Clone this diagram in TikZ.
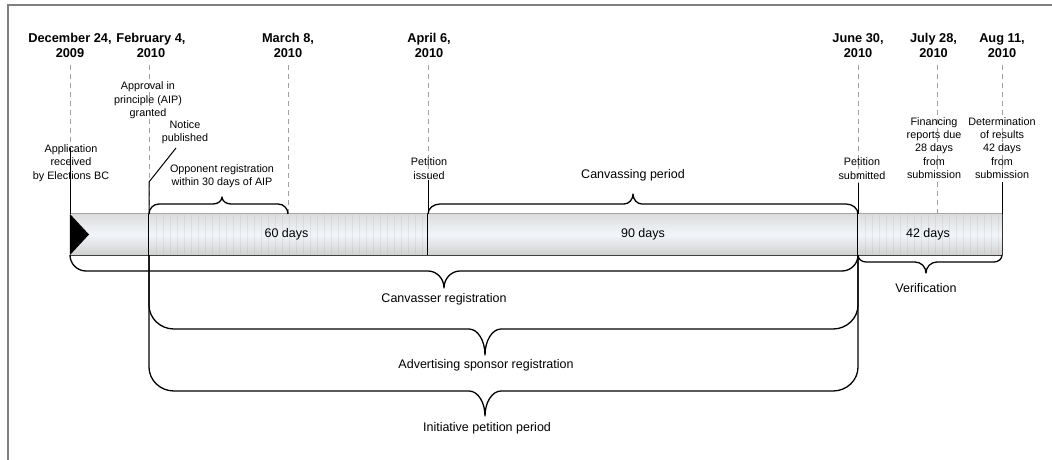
\documentclass[tikz,border=0pt]{standalone}
\usepackage{fontspec}
\setmainfont{Liberation Sans}
\definecolor{bartop}{RGB}{220,220,220}
\definecolor{barmid}{RGB}{242,246,250}
\definecolor{barbot}{RGB}{208,208,208}
\definecolor{framec}{RGB}{128,128,128}
\definecolor{dashc}{RGB}{160,160,160}
\tikzset{
  datelab/.style={font=\fontsize{12.8}{14.5}\selectfont\bfseries, align=center, inner sep=0pt},
  calllab/.style={font=\fontsize{10.8}{13.4}\selectfont, align=center, inner sep=0pt},
  bracelab/.style={font=\fontsize{12.5}{15}\selectfont, align=center, inner sep=0pt},
  datedash/.style={draw=dashc, line width=0.8pt, dash pattern=on 5pt off 4pt},
  leader/.style={draw=black, line width=1pt},
  bracepath/.style={draw=black, line width=1.3pt, line join=round},
  texture/.style={draw=gray, opacity=0.12, line width=0.6pt},
  seg/.style={top color=bartop, bottom color=barbot, middle color=barmid, draw=none,
              minimum height=41pt, inner sep=0pt, font=\fontsize{12.5}{15}\selectfont},
}
% xl, xr, y0, yc, yh, xt, ytip, r, w
\newcommand{\tlbrace}[9]{%
  \draw[bracepath] (#1,#3) -- (#1,#4)
    .. controls (#1,{#4+0.552*(#5-#4)}) and ({#1+0.448*#8},#5) .. ({#1+#8},#5)
    -- ({#6-#9},#5)
    .. controls ({#6-0.448*#9},#5) and (#6,{#5+0.448*(#7-#5)}) .. (#6,#7)
    .. controls (#6,{#5+0.448*(#7-#5)}) and ({#6+0.448*#9},#5) .. ({#6+#9},#5)
    -- ({#2-#8},#5)
    .. controls ({#2-0.448*#8},#5) and (#2,{#4+0.552*(#5-#4)}) .. (#2,#4)
    -- (#2,#3);}
\begin{document}
\begin{tikzpicture}[x=1pt,y=-1pt]
\useasboundingbox (0,0) rectangle (1052,460);
% frame
\draw[framec, line width=1.5pt] (8,460) -- (8,5) -- (1052,5);

% bar segments
\node[seg, minimum width=79pt]  (s1) at (109.5,234.5) {};
\node[seg, minimum width=279pt] (s2) at (288.5,234.5) {};
\node[seg, minimum width=430pt] (s3) at (643,234.5) {};
\node[seg, minimum width=144pt] (s4) at (930,234.5) {};
\foreach \x in {156,163,...,424} \draw[texture] (\x,215) -- (\x,254);
\foreach \x in {865,872,...,998} \draw[texture] (\x,215) -- (\x,254);
\node[bracelab] (l60) at (286.5,234) {60 days};
\node[bracelab] (l90) at (643,234) {90 days};
\node[bracelab] (l42) at (928,234) {42 days};
\draw[gray!70, line width=0.8pt] (s1.north west) -- (s4.north east);
\draw[black!75, line width=1.4pt] (s1.south west) -- (s4.south east);
\draw[black, line width=1pt] (s2.north west) -- (s2.south west);
\draw[black, line width=1pt] (s3.north west) -- (s3.south west);
\draw[black, line width=1pt] (s4.north west) -- (s4.south west);
\draw[black!80, line width=1.2pt] (s4.north east) -- (s4.south east);
\fill[black] (s1.north west) -- (89,234.5) -- (s1.south west) -- cycle;

% bar-top coordinates
\coordinate (b1) at (70,214);
\coordinate (b2) at (149,214);
\coordinate (b3) at (288,214);
\coordinate (b4) at (428,214);
\coordinate (b5) at (858,214);
\coordinate (b6) at (937,214);
\coordinate (b7) at (1002,214);

% dates
\node[datelab] (d1) at (70,45.5)  {December 24,\\2009};
\node[datelab] (d2) at (151,45.5) {February 4,\\2010};
\node[datelab] (d3) at (288,45.5) {March 8,\\2010};
\node[datelab] (d4) at (429,45.5) {April 6,\\2010};
\node[datelab] (d5) at (858,45.5) {June 30,\\2010};
\node[datelab] (d6) at (933.5,45.5) {July 28,\\2010};
\node[datelab] (d7) at (1002,45.5) {Aug 11,\\2010};

% dashed date lines
\foreach \c in {b1,b2,b3,b4,b5,b6,b7}
  \draw[datedash] (\c |- 0,65) -- (\c);

% callout labels
\node[calllab] (c1) at (71,163) {Application\\received\\by Elections BC};
\node[calllab] (c2) at (148,100.5) {Approval in\\principle (AIP)\\granted};
\node[calllab] (c3) at (185,132) {Notice\\published};
\node[calllab] (c4) at (222,176.5) {Opponent registration\\within 30 days of AIP};
\node[calllab] (c5) at (429,168.5) {Petition\\issued};
\node[calllab] (c6) at (862,168.5) {Petition\\submitted};
\node[calllab] (c7) at (934,148) {Financing\\reports due\\28 days\\from\\submission};
\node[calllab] (c8) at (1002,148) {Determination\\of results\\42 days\\from\\submission};

% leader lines
\coordinate (n1) at (176,148);
\coordinate (n2) at (149,182);
\draw[leader] (b1 |- 0,148) -- (b1);
\draw[leader] (n1) -- (n2) -- (b2);
\draw[leader] (b4 |- 0,180) -- (b4);
\draw[leader] (b5 |- 0,183) -- (b5);
\draw[leader] (b7 |- 0,182) -- (b7);

% braces above bar
\tlbrace{149}{288}{214}{214}{204}{222}{197}{10}{9}
\tlbrace{428}{858}{214}{214}{204}{633}{194}{12}{9}
\node[bracelab] (lcp) at (633,175.5) {Canvassing period};

% braces below bar
\tlbrace{70}{858}{255}{255}{271}{444}{288}{16}{16}
\node[bracelab] (lcr) at (444,299) {Canvasser registration};
\tlbrace{858}{1002}{255}{255}{262}{926}{273}{8}{11}
\node[bracelab] (lver) at (926,288) {Verification};
\tlbrace{149}{858}{255}{305}{329}{485}{355}{25}{16}
\node[bracelab] (lasr) at (486,365.5) {Advertising sponsor registration};
\tlbrace{149}{858}{255}{367}{391}{485}{416}{25}{16}
\node[bracelab] (lipp) at (487,428.5) {Initiative petition period};
\end{tikzpicture}
\end{document}
